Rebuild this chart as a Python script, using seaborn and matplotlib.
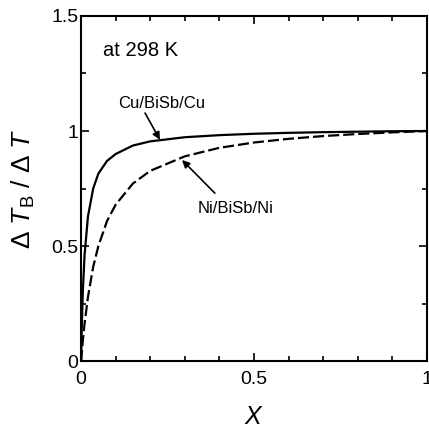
"""Normalized temperature difference vs X for two BiSb junctions at 298 K."""

import matplotlib

matplotlib.use("Agg")
import matplotlib.pyplot as plt
import pandas as pd
import seaborn as sns
from matplotlib.ticker import MultipleLocator

# values
CU_X = [0, 0.002, 0.005, 0.01, 0.02, 0.035, 0.05, 0.075, 0.1, 0.15, 0.2,
        0.3, 0.4, 0.5, 0.6, 0.7, 0.8, 0.9, 1.0]
CU_Y = [0, 0.145, 0.30, 0.46, 0.63, 0.75, 0.815, 0.87, 0.90, 0.937, 0.955,
        0.973, 0.982, 0.988, 0.992, 0.995, 0.997, 0.999, 1.0]

NI_X = [0, 0.005, 0.01, 0.02, 0.035, 0.05, 0.075, 0.1, 0.15, 0.2, 0.3,
        0.4, 0.5, 0.6, 0.7, 0.8, 0.9, 1.0]
NI_Y = [0, 0.088, 0.162, 0.28, 0.41, 0.50, 0.609, 0.68, 0.772, 0.827, 0.89,
        0.927, 0.95, 0.966, 0.978, 0.987, 0.994, 1.0]

X_TICKS = [0, 0.5, 1]
X_TICK_LABELS = ["0", "0.5", "1"]
Y_TICKS = [0, 0.5, 1, 1.5]
Y_TICK_LABELS = ["0", "0.5", "1", "1.5"]


def build_frame() -> pd.DataFrame:
    cu = pd.DataFrame({"X": CU_X, "ratio": CU_Y, "sample": "Cu/BiSb/Cu"})
    ni = pd.DataFrame({"X": NI_X, "ratio": NI_Y, "sample": "Ni/BiSb/Ni"})
    return pd.concat([cu, ni], ignore_index=True)


def arrow(ax, tip, tail) -> None:
    ax.annotate(
        "", xy=tip, xytext=tail,
        arrowprops=dict(arrowstyle="-|>", color="black", lw=1.2,
                        shrinkA=0, shrinkB=0, mutation_scale=11),
    )


def main() -> None:
    sns.set_theme(style="ticks")
    plt.rcParams["font.family"] = ["Liberation Sans", "DejaVu Sans"]
    plt.rcParams["mathtext.fontset"] = "custom"
    plt.rcParams["mathtext.it"] = "Liberation Sans:italic"
    plt.rcParams["mathtext.rm"] = "Liberation Sans"
    plt.rcParams["text.color"] = "black"
    plt.rcParams["axes.labelcolor"] = "black"

    df = build_frame()
    fig = plt.figure(figsize=(4.29, 4.30), dpi=100)
    ax = fig.add_axes([0.189, 0.160, 0.806, 0.803])

    sns.lineplot(
        data=df, x="X", y="ratio", style="sample",
        dashes={"Cu/BiSb/Cu": "", "Ni/BiSb/Ni": (5, 1.8)},
        color="black", linewidth=1.6, legend=False, ax=ax,
        estimator=None, sort=False,
    )

    ax.set_xlim(0, 1)
    ax.set_ylim(0, 1.5)
    ax.set_xticks(X_TICKS, X_TICK_LABELS)
    ax.set_yticks(Y_TICKS, Y_TICK_LABELS)
    ax.xaxis.set_minor_locator(MultipleLocator(0.1))
    ax.yaxis.set_minor_locator(MultipleLocator(0.25))
    ax.tick_params(which="both", direction="in", top=True, right=True,
                   width=1.2, colors="black", labelsize=14)
    ax.tick_params(axis="x", which="major", pad=7)
    ax.tick_params(axis="y", which="major", pad=2)
    ax.tick_params(which="major", length=5.5)
    ax.tick_params(which="minor", length=3.5)
    for spine in ax.spines.values():
        spine.set_linewidth(1.5)
        spine.set_color("black")

    ax.set_xlabel(r"$X$", fontsize=18, labelpad=12)
    ax.set_ylabel(r"$\Delta$ $T_{\rm B}$ / $\Delta$ $T$", fontsize=19, labelpad=10)

    ax.text(0.064, 1.35, "at 298 K", fontsize=14.5, va="center", ha="left")

    ax.text(0.107, 1.12, "Cu/BiSb/Cu", fontsize=12, va="center", ha="left")
    arrow(ax, (0.228, 0.962), (0.185, 1.078))

    ax.text(0.338, 0.665, "Ni/BiSb/Ni", fontsize=12, va="center", ha="left")
    arrow(ax, (0.292, 0.874), (0.387, 0.73))

    fig.savefig("out.png", dpi=100)
    plt.close(fig)


if __name__ == "__main__":
    main()
